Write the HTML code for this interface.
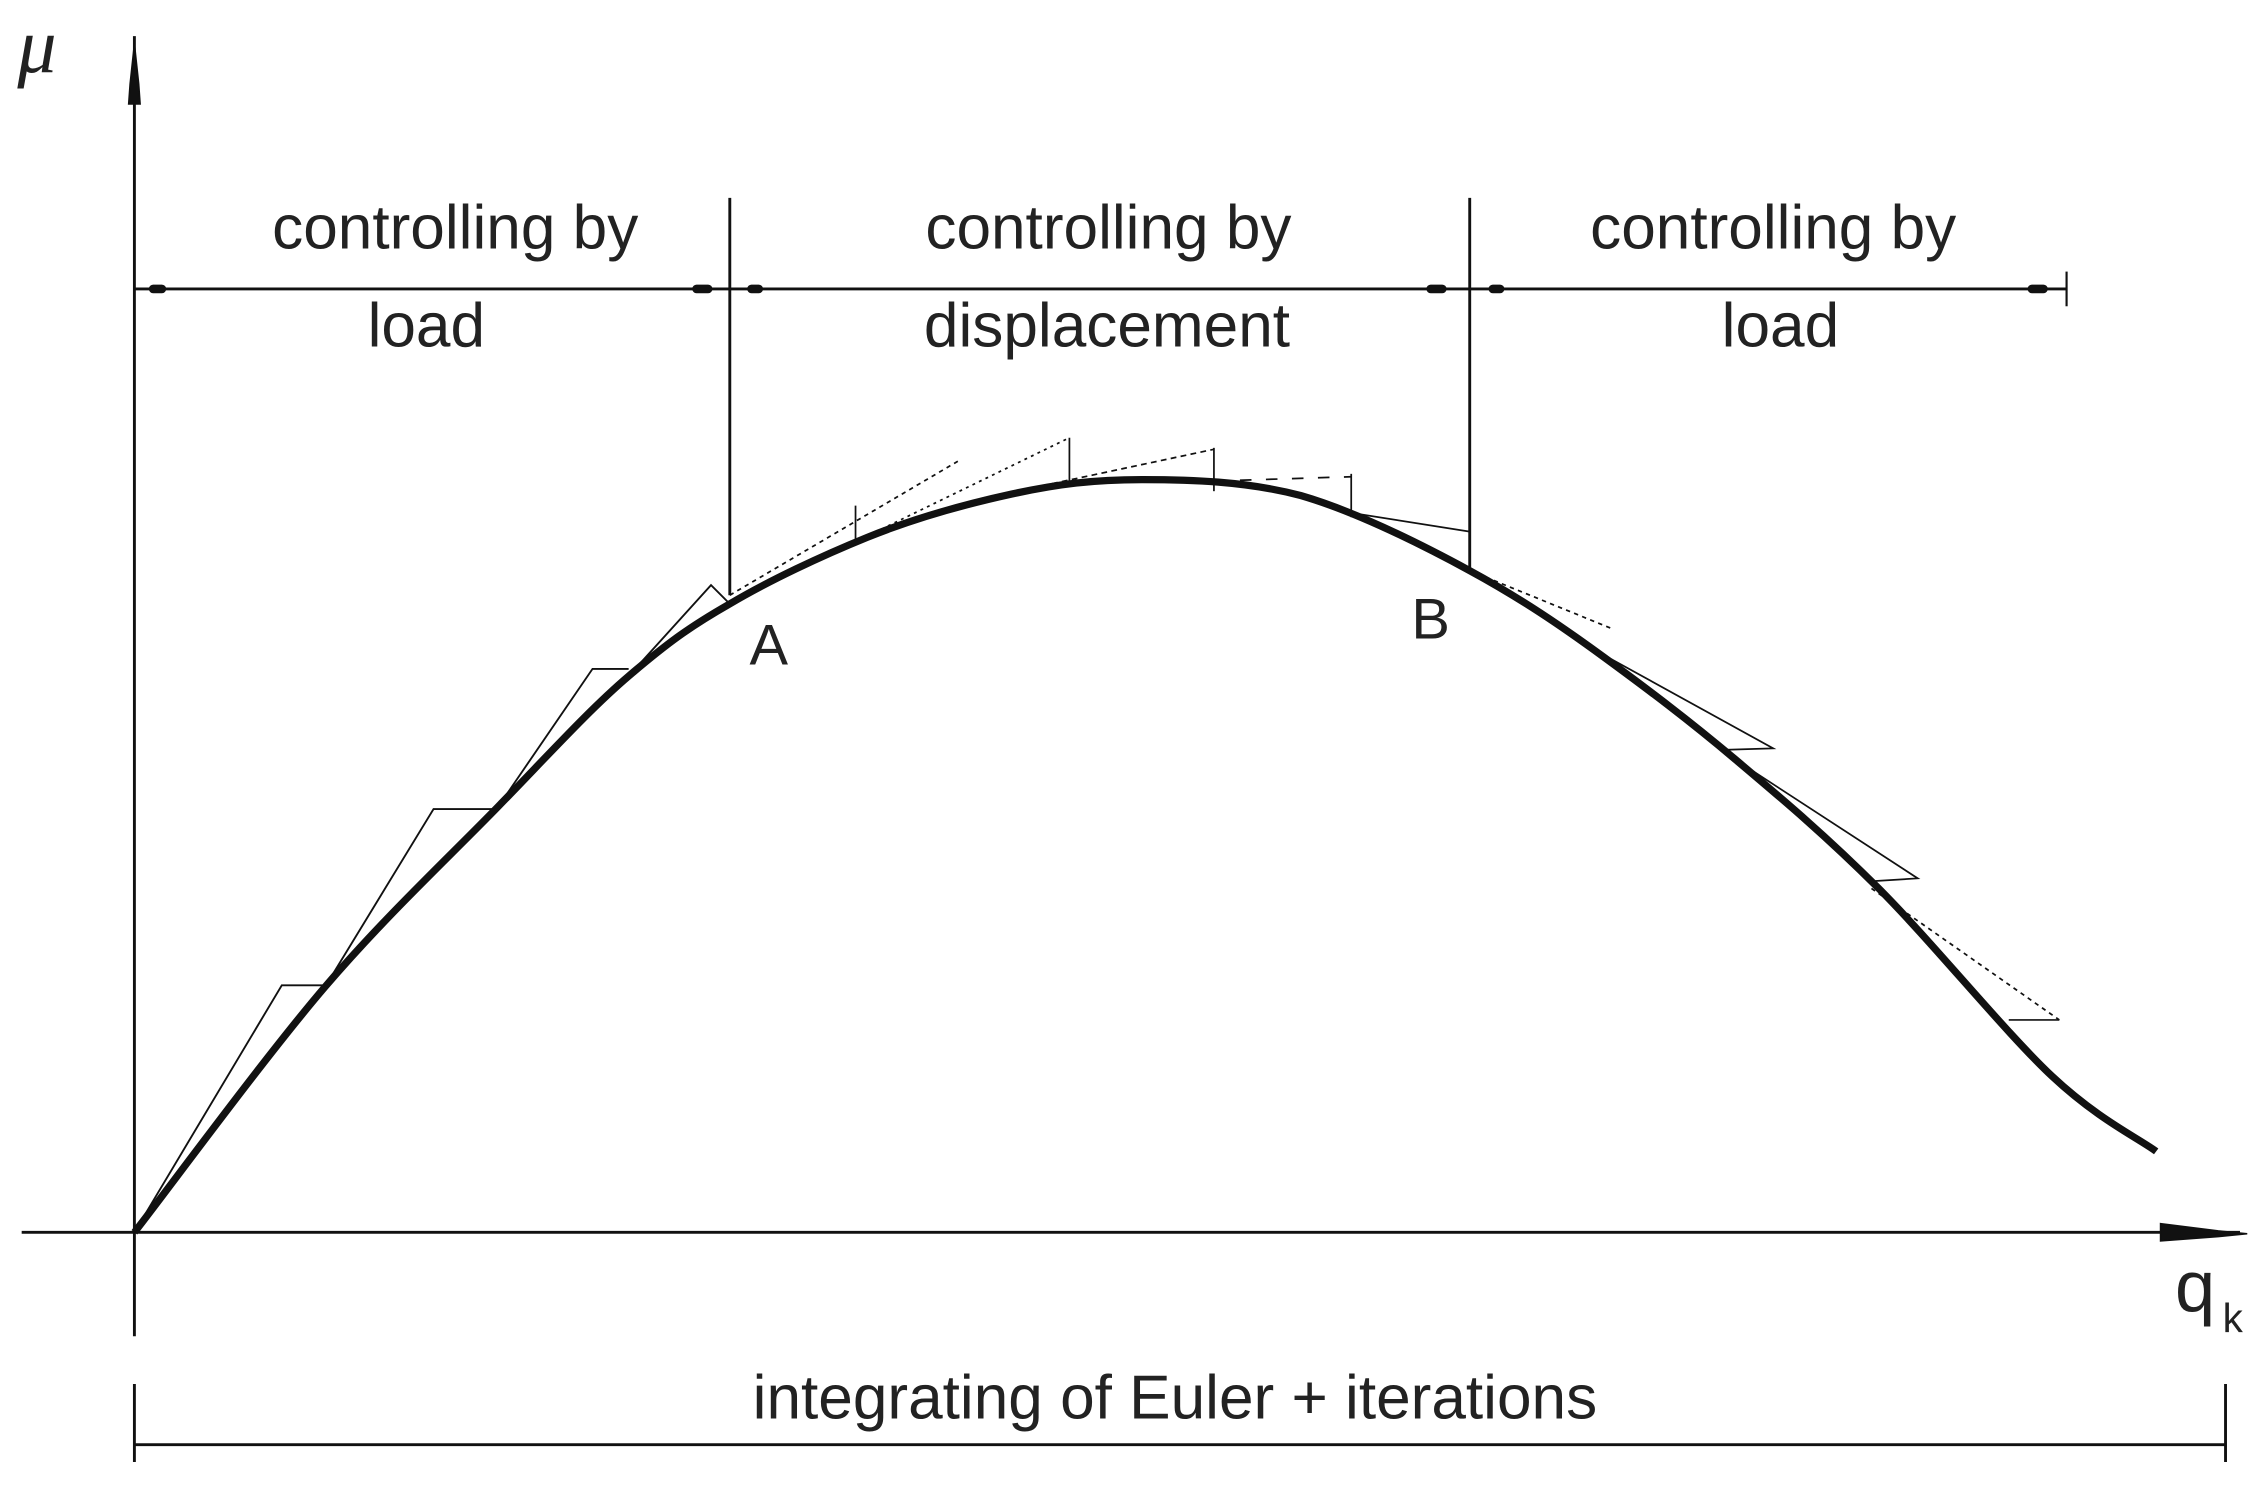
<!DOCTYPE html>
<html><head><meta charset="utf-8"><style>html,body{margin:0;padding:0;background:#fff}svg{display:block}</style></head>
<body>
<svg width="2266" height="1488" viewBox="0 0 1568 1030" preserveAspectRatio="none" xmlns="http://www.w3.org/2000/svg" font-family="Liberation Sans, sans-serif" fill="#222">
<g stroke="#111" fill="none">
<line x1="93" y1="25" x2="93" y2="925" stroke-width="2"/>
<polygon points="93,30 96,58 97,72 89,72 90,58" fill="#111"/>
<line x1="15" y1="853" x2="1550" y2="853" stroke-width="2"/>
<polygon points="1495,847 1535,852 1555,854 1535,856 1495,859" fill="#111"/>
<line x1="93" y1="200" x2="1430" y2="200" stroke-width="2"/>
<line x1="505" y1="137" x2="505" y2="412" stroke-width="2"/>
<line x1="1017" y1="137" x2="1017" y2="395" stroke-width="2"/>
<line x1="1430" y1="188" x2="1430" y2="212" stroke-width="1.5"/>
<g stroke-width="6" stroke-linecap="round">
<line x1="106" y1="200" x2="112" y2="200"/><line x1="482" y1="200" x2="490" y2="200"/>
<line x1="520" y1="200" x2="525" y2="200"/><line x1="990" y1="200" x2="998" y2="200"/>
<line x1="1033" y1="200" x2="1038" y2="200"/><line x1="1406" y1="200" x2="1414" y2="200"/>
</g>
<line x1="93" y1="1000" x2="1540" y2="1000" stroke-width="2"/>
<line x1="93" y1="958" x2="93" y2="1012" stroke-width="2"/>
<line x1="1540" y1="958" x2="1540" y2="1012" stroke-width="2"/>
<path d="M93,853 C115,825 183,732 225,683 C267,634 310,594 345,558 C380,522 408,491 435,468 C462,445 477,434 505,418 C532,402 568,385 600,372 C632,359 668,349 700,342 C732,335 757,332 790,332 C823,332 862,333 900,343 C938,354 982,376 1017,395 C1052,414 1080,433 1110,455 C1140,477 1168,498 1200,525 C1232,552 1263,578 1300,615 C1337,652 1388,715 1420,745 C1452,775 1480,788 1492,797" stroke-width="5"/>
<path d="M93,853 L195,682 L225,682 M225,683 L300,560 L345,560 M345,558 L410,463 L435,463 M435,468 L492,405 L505,418" stroke-width="1.3"/>
<g stroke-width="1.2">
<line x1="505" y1="412" x2="665" y2="318" stroke-dasharray="3,3"/>
<line x1="592" y1="375" x2="740" y2="303" stroke-dasharray="2,3"/>
<line x1="680" y1="345" x2="840" y2="311" stroke-dasharray="4,3"/>
<line x1="840" y1="333" x2="935" y2="330" stroke-dasharray="8,10"/>
<line x1="935" y1="355" x2="1017" y2="368"/>
<line x1="592" y1="350" x2="592" y2="375"/>
<line x1="740" y1="303" x2="740" y2="335"/>
<line x1="840" y1="310" x2="840" y2="340"/>
<line x1="935" y1="328" x2="935" y2="358"/>
</g>
<g stroke-width="1.2">
<line x1="1017" y1="395" x2="1115" y2="435" stroke-dasharray="3,3"/>
<path d="M1100,448 L1227,518 L1195,519"/>
<path d="M1195,522 L1327,608 L1295,610"/>
<path d="M1295,615 L1425,706" stroke-dasharray="3,3"/>
<line x1="1390" y1="706" x2="1425" y2="706"/>
</g>
</g>
<g font-size="43" text-anchor="middle">
<text x="315" y="172">controlling by</text>
<text x="295" y="240">load</text>
<text x="767" y="172">controlling by</text>
<text x="766" y="240">displacement</text>
<text x="1227" y="172">controlling by</text>
<text x="1232" y="240">load</text>
<text x="813" y="982">integrating of Euler + iterations</text>
<text x="532" y="460" font-size="40">A</text>
<text x="990" y="442" font-size="40">B</text>
</g>
<text x="12" y="50" font-size="54" font-style="italic" font-family="Liberation Serif, serif">μ</text>
<text x="1505" y="908" font-size="50">q</text>
<text x="1538" y="922" font-size="28">k</text>
</svg>
</body></html>
